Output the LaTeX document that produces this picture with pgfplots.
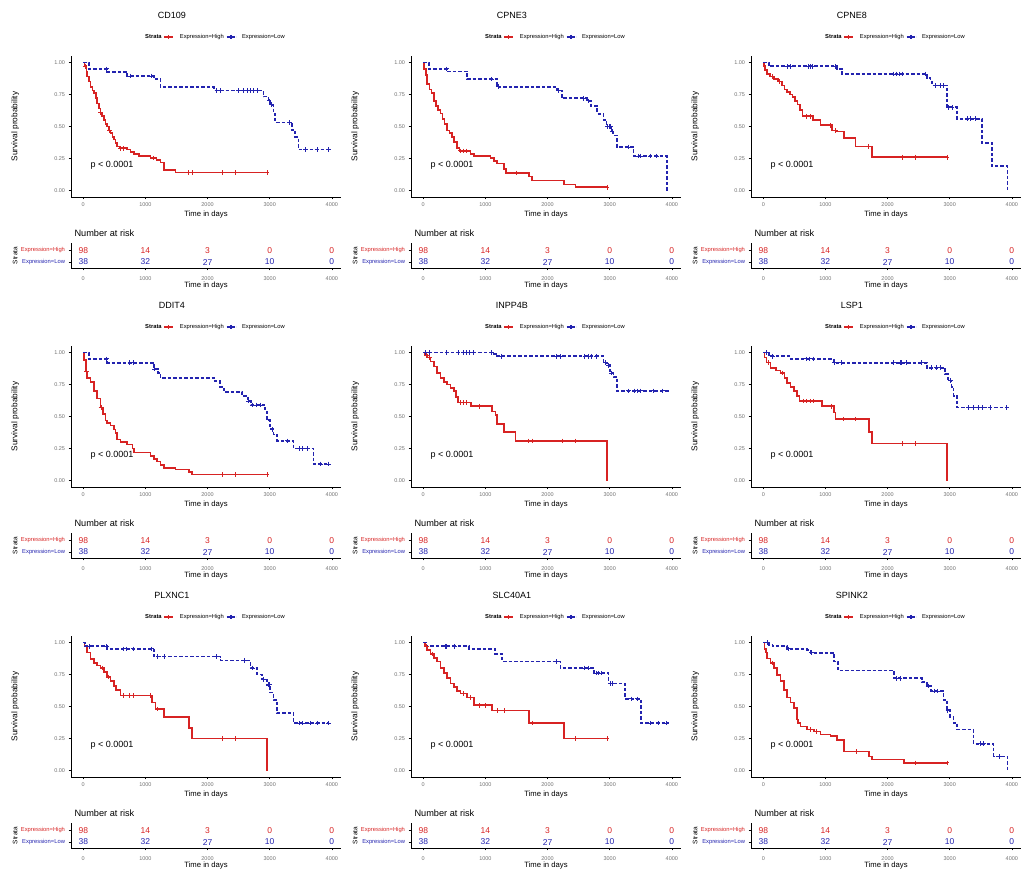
\documentclass[border=0pt]{standalone}
\usepackage{fontspec}
\setmainfont{Liberation Sans}
\usepackage{pgfplots}
\pgfplotsset{compat=1.18}
\definecolor{highc}{RGB}{215,35,35}
\definecolor{lowc}{RGB}{35,35,175}
\newcommand\fs[1]{\fontsize{#1}{#1}\selectfont}
\pgfplotsset{
 highline/.style={highc, line width=1.6pt, const plot, mark=none},
 lowline/.style={lowc, line width=1.7pt, dash pattern=on 3.5pt off 2pt, const plot, mark=none},
 highcens/.style={highc, only marks, mark=+, mark size=2.3pt, line width=0.8pt},
 lowcens/.style={lowc, only marks, mark=+, mark size=2.3pt, line width=0.8pt},
 base/.style={scale only axis, width=270pt, xmin=-197.5, xmax=4147.5,
   axis x line*=bottom, axis y line*=left, axis line style={-, black, line width=0.6pt},
   xtick={0,1000,2000,3000,4000}, xticklabels={0,1000,2000,3000,4000},
   tick align=outside, major tick length=2.5pt, tick style={black, line width=0.5pt},
   ticklabel style={font=\fs{5.5}, text=black!55},
   xlabel={Time in days}, xlabel style={font=\fs{7.7}, at={(axis description cs:0.5,0)}, anchor=center, yshift=-18pt}},
 km/.style={base, height=141pt, ymin=-0.05, ymax=1.05,
   ytick={0,0.25,0.5,0.75,1}, yticklabels={0.00,0.25,0.50,0.75,1.00},
   ylabel={Survival probability}, ylabel style={font=\fs{8.3}, at={(axis description cs:-0.207,0.5)}, anchor=center},
   title style={font=\fs{9}, at={(axis description cs:0.374,1)}, anchor=center, yshift=35pt},
   legend style={at={(axis description cs:0.526,1)}, anchor=center, yshift=19pt, draw=none, fill=none,
     font=\fs{5.8}, legend columns=-1, inner sep=0pt,
     /tikz/every odd column/.append style={column sep=4pt}},
   legend image code/.code={\draw[mark repeat=2, mark phase=2, ##1] plot coordinates {(0pt,0pt) (4.5pt,0pt) (9pt,0pt)};}},
 risk/.style={base, height=25pt, ymin=-0.5, ymax=1.6, ytick={0,1},
   yticklabels={\textcolor{lowc}{Expression=Low},\textcolor{highc}{Expression=High}},
   yticklabel style={font=\fs{5.8}}, xticklabel style={yshift=-3pt},
   ylabel={Strata}, ylabel style={font=\fs{6.5}, at={(axis description cs:-0.207,0.5)}, anchor=center},
   title={Number at risk}, title style={font=\fs{9.2}, at={(axis description cs:0,1)}, anchor=west, yshift=4pt}},
 hnum/.style={only marks, mark=none, nodes near coords, point meta=explicit symbolic,
   nodes near coords style={anchor=center, text=highc, font=\fs{8.5}}},
 lnum/.style={only marks, mark=none, nodes near coords, point meta=explicit symbolic,
   nodes near coords style={anchor=center, text=lowc, font=\fs{8.5}}},
}
\newcommand\kmlegend{%
 \addlegendimage{empty legend}
 \addlegendimage{highc, line width=1.2pt, mark=+, mark size=2pt}
 \addlegendimage{lowc, line width=1.2pt, dash pattern=on 2pt off 1pt, mark=+, mark size=2pt, mark options={solid}}
 \addlegendentry{\textbf{Strata}}
 \addlegendentry{Expression=High}
 \addlegendentry{Expression=Low}}
\begin{document}
\begin{tikzpicture}[x=1pt,y=1pt]
\useasboundingbox (0,0) rectangle (1025,875);
% ================= Panel 1: CD109 =================
\begin{axis}[km, at={(71pt,819pt)}, anchor=north west, title={CD109}]
\kmlegend
\addplot[highline] coordinates {(0,1) (20,0.97) (50,0.93) (64,0.89) (90,0.85) (118,0.81) (150,0.78) (171,0.76) (200,0.72) (225,0.68) (250,0.64) (278,0.61) (300,0.58) (332,0.55) (360,0.52) (386,0.50) (410,0.47) (439,0.45) (470,0.42) (493,0.40) (520,0.37) (546,0.345) (580,0.33) (700,0.32) (760,0.30) (814,0.285) (900,0.27) (1082,0.255) (1180,0.24) (1240,0.22) (1296,0.16) (1483,0.14) (2956,0.14)};
\addplot[highcens] coordinates {(30,0.97) (280,0.61) (420,0.47) (600,0.33) (650,0.33) (1130,0.255) (1698,0.14) (1751,0.14) (2233,0.14) (2447,0.14) (2956,0.14)};
\addplot[lowline] coordinates {(0,1) (91,0.95) (386,0.927) (707,0.894) (1135,0.87) (1242,0.806) (2099,0.78) (2902,0.733) (2983,0.70) (3010,0.67) (3063,0.60) (3090,0.53) (3358,0.47) (3411,0.42) (3465,0.32) (3947,0.32)};
\addplot[lowcens] coordinates {(370,0.95) (760,0.894) (1100,0.894) (2150,0.78) (2200,0.78) (2500,0.78) (2580,0.78) (2640,0.78) (2690,0.78) (2740,0.78) (2800,0.78) (2990,0.70) (3030,0.67) (3320,0.53) (3570,0.32) (3760,0.32) (3947,0.32)};
\node[anchor=west, font=\fs{9}] at (axis cs:60,0.197) {p < 0.0001};
\end{axis}
\begin{axis}[risk, at={(71pt,632pt)}, anchor=north west]
\addplot[hnum] coordinates {(0,1) [98] (1000,1) [14] (2000,1) [3] (3000,1) [0] (4000,1) [0]};
\addplot[lnum] coordinates {(0,0) [38] (1000,0) [32] (2000,0) [27] (3000,0) [10] (4000,0) [0]};
\end{axis}
% ================= Panel 2: CPNE3 =================
\begin{axis}[km, at={(411pt,819pt)}, anchor=north west, title={CPNE3}]
\kmlegend
\addplot[highline] coordinates {(0,1) (15,0.95) (40,0.90) (64,0.83) (100,0.79) (130,0.76) (171,0.70) (200,0.66) (240,0.63) (278,0.60) (310,0.56) (340,0.52) (386,0.47) (420,0.45) (460,0.42) (493,0.38) (546,0.33) (580,0.31) (760,0.285) (814,0.27) (1082,0.255) (1135,0.23) (1189,0.21) (1296,0.17) (1330,0.137) (1698,0.11) (1751,0.08) (2260,0.047) (2447,0.026) (2956,0.026)};
\addplot[highcens] coordinates {(600,0.31) (650,0.31) (700,0.31) (1496,0.137) (2956,0.026)};
\addplot[lowline] coordinates {(0,1) (91,0.95) (386,0.93) (707,0.87) (1189,0.81) (2150,0.78) (2233,0.72) (2635,0.70) (2700,0.66) (2800,0.60) (2902,0.55) (2950,0.50) (3030,0.46) (3063,0.43) (3117,0.34) (3384,0.27) (3920,0.27) (3920,0)};
\addplot[lowcens] coordinates {(380,0.95) (1100,0.87) (1210,0.81) (2180,0.78) (2580,0.72) (2650,0.70) (2960,0.50) (2990,0.50) (3010,0.50) (3040,0.46) (3300,0.34) (3460,0.27) (3500,0.27) (3650,0.27) (3750,0.27)};
\node[anchor=west, font=\fs{9}] at (axis cs:60,0.197) {p < 0.0001};
\end{axis}
\begin{axis}[risk, at={(411pt,632pt)}, anchor=north west]
\addplot[hnum] coordinates {(0,1) [98] (1000,1) [14] (2000,1) [3] (3000,1) [0] (4000,1) [0]};
\addplot[lnum] coordinates {(0,0) [38] (1000,0) [32] (2000,0) [27] (3000,0) [10] (4000,0) [0]};
\end{axis}
% ================= Panel 3: CPNE8 =================
\begin{axis}[km, at={(751pt,819pt)}, anchor=north west, title={CPNE8}]
\kmlegend
\addplot[highline] coordinates {(0,1) (15,0.97) (30,0.94) (64,0.91) (110,0.89) (171,0.87) (240,0.85) (300,0.82) (340,0.79) (386,0.77) (430,0.75) (470,0.73) (510,0.70) (550,0.67) (590,0.63) (630,0.58) (800,0.55) (921,0.51) (1110,0.47) (1190,0.46) (1296,0.41) (1483,0.345) (1751,0.26) (2956,0.26)};
\addplot[highcens] coordinates {(150,0.89) (260,0.85) (700,0.58) (760,0.58) (1082,0.51) (1160,0.47) (1698,0.345) (2233,0.26) (2447,0.26) (2956,0.26)};
\addplot[lowline] coordinates {(0,1) (91,0.97) (1189,0.95) (1270,0.91) (2635,0.88) (2690,0.85) (2720,0.82) (2956,0.65) (3117,0.56) (3518,0.37) (3679,0.19) (3930,0.19) (3930,0)};
\addplot[lowcens] coordinates {(386,0.97) (440,0.97) (733,0.97) (760,0.97) (787,0.97) (1163,0.97) (2099,0.91) (2150,0.91) (2190,0.91) (2233,0.91) (2608,0.91) (2769,0.82) (2849,0.82) (2902,0.82) (2983,0.65) (3036,0.65) (3277,0.56) (3331,0.56) (3411,0.56)};
\node[anchor=west, font=\fs{9}] at (axis cs:60,0.197) {p < 0.0001};
\end{axis}
\begin{axis}[risk, at={(751pt,632pt)}, anchor=north west]
\addplot[hnum] coordinates {(0,1) [98] (1000,1) [14] (2000,1) [3] (3000,1) [0] (4000,1) [0]};
\addplot[lnum] coordinates {(0,0) [38] (1000,0) [32] (2000,0) [27] (3000,0) [10] (4000,0) [0]};
\end{axis}
% ================= Panel 4: DDIT4 =================
\begin{axis}[km, at={(71pt,529pt)}, anchor=north west, title={DDIT4}]
\kmlegend
\addplot[highline] coordinates {(0,1) (15,0.94) (40,0.85) (64,0.80) (118,0.77) (171,0.70) (225,0.64) (278,0.57) (320,0.52) (360,0.47) (386,0.45) (440,0.43) (493,0.40) (520,0.37) (546,0.32) (600,0.30) (707,0.28) (790,0.25) (814,0.22) (1082,0.19) (1135,0.17) (1189,0.15) (1242,0.12) (1296,0.10) (1483,0.085) (1698,0.065) (1751,0.047) (2956,0.047)};
\addplot[highcens] coordinates {(50,0.85) (285,0.57) (2233,0.047) (2447,0.047) (2956,0.047)};
\addplot[lowline] coordinates {(0,1) (91,0.95) (386,0.92) (1135,0.87) (1200,0.84) (1242,0.80) (2099,0.775) (2200,0.73) (2260,0.69) (2554,0.66) (2650,0.62) (2700,0.59) (2929,0.54) (2956,0.47) (3010,0.40) (3063,0.36) (3117,0.31) (3384,0.25) (3706,0.13) (3947,0.13)};
\addplot[lowcens] coordinates {(380,0.95) (750,0.92) (800,0.92) (1150,0.87) (2660,0.62) (2720,0.59) (2790,0.59) (2850,0.59) (3040,0.40) (3280,0.31) (3470,0.25) (3530,0.25) (3600,0.25) (3820,0.13) (3947,0.13)};
\node[anchor=west, font=\fs{9}] at (axis cs:60,0.197) {p < 0.0001};
\end{axis}
\begin{axis}[risk, at={(71pt,342pt)}, anchor=north west]
\addplot[hnum] coordinates {(0,1) [98] (1000,1) [14] (2000,1) [3] (3000,1) [0] (4000,1) [0]};
\addplot[lnum] coordinates {(0,0) [38] (1000,0) [32] (2000,0) [27] (3000,0) [10] (4000,0) [0]};
\end{axis}
% ================= Panel 5: INPP4B =================
\begin{axis}[km, at={(411pt,529pt)}, anchor=north west, title={INPP4B}]
\kmlegend
\addplot[highline] coordinates {(0,1) (20,0.98) (64,0.96) (118,0.93) (171,0.89) (225,0.84) (278,0.80) (330,0.77) (386,0.75) (440,0.72) (493,0.70) (530,0.65) (560,0.61) (770,0.58) (1110,0.54) (1160,0.51) (1189,0.44) (1296,0.38) (1483,0.31) (2956,0.31) (2956,0)};
\addplot[highcens] coordinates {(50,0.98) (100,0.96) (600,0.61) (650,0.61) (700,0.61) (900,0.58) (1698,0.31) (1751,0.31) (2233,0.31) (2447,0.31)};
\addplot[lowline] coordinates {(0,1) (1135,0.985) (1170,0.97) (2902,0.92) (2960,0.90) (3010,0.84) (3060,0.81) (3117,0.70) (3947,0.70)};
\addplot[lowcens] coordinates {(30,1) (100,1) (380,1) (560,1) (650,1) (700,1) (750,1) (800,1) (1100,1) (1250,0.97) (2150,0.97) (2200,0.97) (2600,0.97) (2650,0.97) (2700,0.97) (2780,0.97) (2930,0.92) (2980,0.90) (3030,0.84) (3300,0.70) (3400,0.70) (3450,0.70) (3500,0.70) (3700,0.70) (3850,0.70)};
\node[anchor=west, font=\fs{9}] at (axis cs:60,0.197) {p < 0.0001};
\end{axis}
\begin{axis}[risk, at={(411pt,342pt)}, anchor=north west]
\addplot[hnum] coordinates {(0,1) [98] (1000,1) [14] (2000,1) [3] (3000,1) [0] (4000,1) [0]};
\addplot[lnum] coordinates {(0,0) [38] (1000,0) [32] (2000,0) [27] (3000,0) [10] (4000,0) [0]};
\end{axis}
% ================= Panel 6: LSP1 =================
\begin{axis}[km, at={(751pt,529pt)}, anchor=north west, title={LSP1}]
\kmlegend
\addplot[highline] coordinates {(0,1) (20,0.96) (50,0.92) (118,0.88) (200,0.86) (278,0.84) (340,0.80) (386,0.76) (440,0.73) (493,0.70) (540,0.66) (580,0.62) (948,0.58) (1135,0.53) (1160,0.48) (1698,0.38) (1751,0.29) (2956,0.29) (2956,0)};
\addplot[highcens] coordinates {(80,0.92) (300,0.84) (650,0.62) (700,0.62) (760,0.62) (814,0.62) (1100,0.58) (1296,0.48) (1483,0.48) (2233,0.29) (2447,0.29)};
\addplot[lowline] coordinates {(0,1) (91,0.97) (440,0.95) (1135,0.92) (2635,0.88) (2929,0.83) (2975,0.78) (3030,0.73) (3063,0.66) (3117,0.57) (3947,0.57)};
\addplot[lowcens] coordinates {(50,1) (150,0.97) (700,0.95) (750,0.95) (800,0.95) (1150,0.92) (1250,0.92) (2100,0.92) (2200,0.92) (2230,0.92) (2300,0.92) (2550,0.92) (2700,0.88) (2780,0.88) (2850,0.88) (3010,0.78) (3300,0.57) (3380,0.57) (3460,0.57) (3520,0.57) (3650,0.57) (3920,0.57)};
\node[anchor=west, font=\fs{9}] at (axis cs:60,0.197) {p < 0.0001};
\end{axis}
\begin{axis}[risk, at={(751pt,342pt)}, anchor=north west]
\addplot[hnum] coordinates {(0,1) [98] (1000,1) [14] (2000,1) [3] (3000,1) [0] (4000,1) [0]};
\addplot[lnum] coordinates {(0,0) [38] (1000,0) [32] (2000,0) [27] (3000,0) [10] (4000,0) [0]};
\end{axis}
% ================= Panel 7: PLXNC1 =================
\begin{axis}[km, at={(71pt,239pt)}, anchor=north west, title={PLXNC1}]
\kmlegend
\addplot[highline] coordinates {(0,1) (20,0.97) (64,0.92) (118,0.87) (171,0.84) (225,0.82) (278,0.80) (332,0.77) (386,0.73) (440,0.70) (493,0.66) (530,0.63) (600,0.585) (1110,0.53) (1160,0.48) (1296,0.42) (1698,0.33) (1751,0.25) (2956,0.25) (2956,0)};
\addplot[highcens] coordinates {(300,0.80) (400,0.73) (650,0.585) (750,0.585) (814,0.585) (1082,0.585) (1200,0.48) (2233,0.25) (2447,0.25)};
\addplot[lowline] coordinates {(0,1) (30,0.97) (386,0.95) (1135,0.89) (2206,0.86) (2690,0.80) (2800,0.75) (2880,0.71) (2956,0.67) (3010,0.61) (3063,0.55) (3117,0.45) (3384,0.37) (3947,0.37)};
\addplot[lowcens] coordinates {(100,0.97) (370,0.97) (650,0.95) (700,0.95) (800,0.95) (1100,0.95) (1200,0.89) (1300,0.89) (2150,0.89) (2600,0.86) (2720,0.80) (2900,0.71) (2980,0.67) (3000,0.67) (3470,0.37) (3530,0.37) (3650,0.37) (3760,0.37) (3947,0.37)};
\node[anchor=west, font=\fs{9}] at (axis cs:60,0.197) {p < 0.0001};
\end{axis}
\begin{axis}[risk, at={(71pt,52pt)}, anchor=north west]
\addplot[hnum] coordinates {(0,1) [98] (1000,1) [14] (2000,1) [3] (3000,1) [0] (4000,1) [0]};
\addplot[lnum] coordinates {(0,0) [38] (1000,0) [32] (2000,0) [27] (3000,0) [10] (4000,0) [0]};
\end{axis}
% ================= Panel 8: SLC40A1 =================
\begin{axis}[km, at={(411pt,239pt)}, anchor=north west, title={SLC40A1}]
\kmlegend
\addplot[highline] coordinates {(0,1) (30,0.97) (64,0.94) (118,0.91) (171,0.88) (225,0.85) (278,0.80) (332,0.76) (386,0.72) (440,0.68) (493,0.65) (546,0.62) (600,0.60) (707,0.57) (814,0.51) (1110,0.47) (1698,0.37) (2260,0.25) (2956,0.25)};
\addplot[highcens] coordinates {(50,0.97) (150,0.91) (650,0.60) (760,0.57) (900,0.51) (1000,0.51) (1200,0.47) (1300,0.47) (1751,0.37) (2447,0.25) (2956,0.25)};
\addplot[lowline] coordinates {(0,1) (50,0.97) (735,0.95) (1150,0.91) (1270,0.85) (2206,0.80) (2742,0.76) (2983,0.68) (3250,0.56) (3500,0.37) (3947,0.37)};
\addplot[lowcens] coordinates {(350,0.97) (380,0.97) (500,0.97) (2150,0.85) (2600,0.80) (2650,0.80) (2780,0.76) (2820,0.76) (2870,0.76) (3010,0.68) (3050,0.68) (3350,0.56) (3450,0.56) (3650,0.37) (3780,0.37) (3920,0.37)};
\node[anchor=west, font=\fs{9}] at (axis cs:60,0.197) {p < 0.0001};
\end{axis}
\begin{axis}[risk, at={(411pt,52pt)}, anchor=north west]
\addplot[hnum] coordinates {(0,1) [98] (1000,1) [14] (2000,1) [3] (3000,1) [0] (4000,1) [0]};
\addplot[lnum] coordinates {(0,0) [38] (1000,0) [32] (2000,0) [27] (3000,0) [10] (4000,0) [0]};
\end{axis}
% ================= Panel 9: SPINK2 =================
\begin{axis}[km, at={(751pt,239pt)}, anchor=north west, title={SPINK2}]
\kmlegend
\addplot[highline] coordinates {(0,1) (20,0.95) (40,0.92) (64,0.875) (118,0.84) (171,0.80) (225,0.745) (278,0.70) (332,0.63) (386,0.57) (440,0.53) (493,0.49) (546,0.40) (560,0.37) (600,0.345) (707,0.32) (814,0.305) (921,0.28) (1082,0.27) (1189,0.24) (1296,0.15) (1698,0.11) (1751,0.085) (2260,0.06) (2956,0.06)};
\addplot[highcens] coordinates {(150,0.84) (760,0.32) (850,0.305) (1500,0.15) (2447,0.06) (2956,0.06)};
\addplot[lowline] coordinates {(0,1) (91,0.98) (150,0.97) (386,0.95) (707,0.94) (760,0.92) (1135,0.85) (1200,0.78) (2099,0.72) (2554,0.69) (2635,0.66) (2700,0.62) (2902,0.55) (2956,0.47) (3010,0.42) (3063,0.37) (3117,0.32) (3384,0.21) (3706,0.11) (3930,0.11) (3930,0)};
\addplot[lowcens] coordinates {(60,1) (400,0.95) (780,0.92) (2150,0.72) (2200,0.72) (2650,0.66) (2750,0.62) (2800,0.62) (2970,0.47) (3500,0.21) (3550,0.21) (3800,0.11)};
\node[anchor=west, font=\fs{9}] at (axis cs:60,0.197) {p < 0.0001};
\end{axis}
\begin{axis}[risk, at={(751pt,52pt)}, anchor=north west]
\addplot[hnum] coordinates {(0,1) [98] (1000,1) [14] (2000,1) [3] (3000,1) [0] (4000,1) [0]};
\addplot[lnum] coordinates {(0,0) [38] (1000,0) [32] (2000,0) [27] (3000,0) [10] (4000,0) [0]};
\end{axis}
\end{tikzpicture}
\end{document}
